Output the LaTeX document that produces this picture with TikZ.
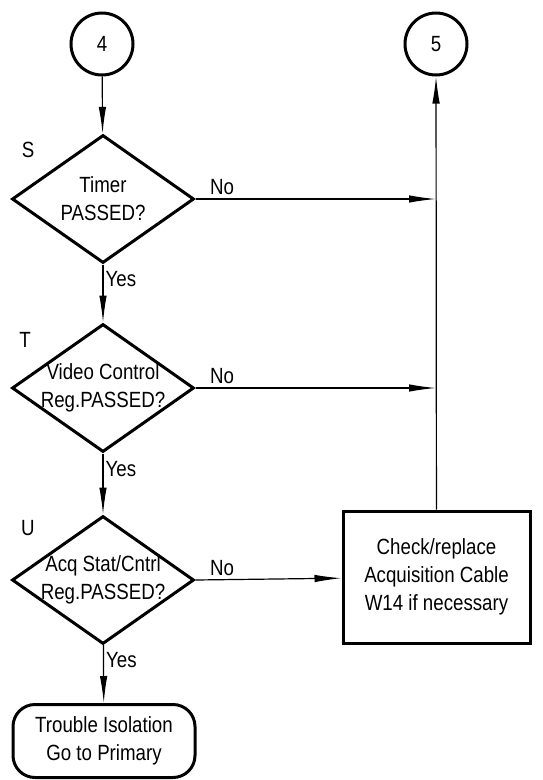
\documentclass[tikz,border=0pt]{standalone}
\usepackage{fontspec}
\setmainfont{Liberation Sans}[FakeStretch=0.85]
\usetikzlibrary{positioning,shapes.geometric,arrows.meta}

\begin{document}
\begin{tikzpicture}[x=1pt,y=1pt,
                    font=\fontsize{22}{28}\selectfont,
                    conn/.style={circle,draw,line width=3pt,minimum size=62pt,inner sep=0pt},
                    decision/.style={diamond,draw,line width=3pt,aspect=1.42,
                                     minimum width=182pt,minimum height=128pt,
                                     inner sep=-10pt,align=center},
                    action/.style={rectangle,draw,line width=3pt,align=center,
                                   minimum width=187pt,minimum height=132pt},
                    finish/.style={rectangle,rounded corners=22pt,draw,line width=3pt,
                                   align=center,minimum width=182pt,minimum height=73pt},
                    flow/.style={line width=1.2pt,-{Latex[length=27pt,width=7.5pt]}},
                    ans/.style={inner sep=2pt}]
  \useasboundingbox (0,0) rectangle (542,-780);

  \node[conn] (four) at (102,-44) {4};
  \node[conn] (five) at (436,-44) {5};
  \node[decision] (timer) at (103,-199) {Timer\\PASSED?};
  \node[decision] (video) at (103,-388) {Video Control\\Reg.PASSED?};
  \node[decision] (acq) at (103,-580) {Acq Stat/Cntrl\\Reg.PASSED?};
  \node[action] (cable) at (436.5,-577) {Check/replace\\Acquisition Cable\\W14 if necessary};
  \node[finish] (primary) at (104,-741) {Trouble Isolation\\Go to Primary};

  % step letters beside the decisions
  \node (stepS) at (28,-150) {S};
  \node (stepT) at (25,-340) {T};
  \node (stepU) at (28,-528) {U};

  % junctions on the return line to 5
  \coordinate (jS) at (five |- timer);
  \coordinate (jT) at (five |- video);

  \draw[flow] (four) -- (timer);
  \draw[flow] (timer) -- node[ans,near start,right] {Yes} (video);
  \draw[flow] (video) -- node[ans,near start,right] {Yes} (acq);
  \draw[flow] (acq) -- node[ans,near start,right] {Yes} (primary);

  \draw[flow] (timer.east) -- node[ans,at start,above right,xshift=12pt,yshift=2pt] {No} (jS);
  \draw[flow] (video.east) -- node[ans,at start,above right,xshift=12pt,yshift=2pt] {No} (jT);
  \draw[flow] (acq.east) -- node[ans,at start,above right,xshift=12pt,yshift=2pt] {No} (cable);
  \draw[flow] (cable) -- (five);
\end{tikzpicture}
\end{document}
